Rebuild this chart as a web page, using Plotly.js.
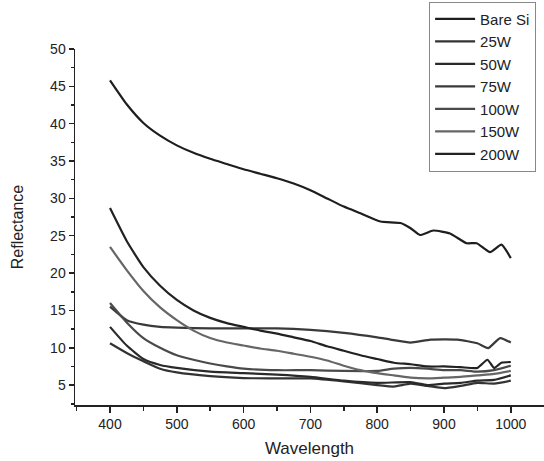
<!DOCTYPE html>
<html>
<head>
<meta charset="utf-8">
<script src="https://cdn.plot.ly/plotly-3.0.1.min.js"></script>
<style>html,body{margin:0;padding:0;background:#fff;}#chart{width:544px;height:461px;}</style>
</head>
<body>
<div id="chart"></div>
<script>
// Wavelength (nm) sample points and reflectance (%) per series
const seriesNames = ["Bare Si", "25W", "50W", "75W", "100W", "150W", "200W"];

const bareSiX = [400, 425, 450, 475, 500, 525, 550, 575, 600, 625, 650, 675, 700, 725, 750, 775, 805, 835, 850, 864, 884, 909, 934, 949, 969, 986, 1000];
const bareSiY = [45.8, 42.6, 40.1, 38.4, 37.1, 36.1, 35.3, 34.6, 33.9, 33.3, 32.7, 32.0, 31.1, 30.0, 28.9, 28.0, 26.9, 26.7, 26.0, 25.1, 25.7, 25.3, 24.0, 24.0, 22.8, 23.8, 22.0];

const w25X = [400, 425, 450, 475, 500, 550, 600, 650, 700, 750, 800, 825, 850, 875, 900, 925, 950, 975, 1000];
const w25Y = [10.6, 9.3, 8.2, 7.2, 6.7, 6.2, 5.95, 5.9, 5.9, 5.5, 5.0, 4.8, 5.2, 4.9, 4.6, 4.9, 5.3, 5.2, 5.6];

const w50X = [400, 425, 450, 475, 500, 550, 600, 650, 700, 750, 800, 850, 875, 900, 925, 950, 975, 1000];
const w50Y = [12.8, 10.3, 8.5, 7.7, 7.3, 6.8, 6.6, 6.4, 6.1, 5.6, 5.3, 5.4, 5.0, 5.2, 5.3, 5.6, 5.7, 6.3];

const w75X = [400, 425, 450, 475, 500, 550, 600, 650, 700, 750, 800, 820, 850, 880, 920, 950, 966, 984, 1000];
const w75Y = [15.5, 13.7, 13.1, 12.8, 12.7, 12.6, 12.6, 12.6, 12.4, 12.0, 11.4, 11.1, 10.7, 11.1, 11.1, 10.6, 9.95, 11.3, 10.7];

const w100X = [400, 425, 450, 475, 500, 525, 550, 575, 600, 650, 700, 750, 800, 825, 850, 875, 900, 925, 950, 975, 1000];
const w100Y = [16.0, 13.4, 11.3, 10.0, 9.0, 8.4, 7.9, 7.5, 7.2, 7.0, 7.0, 6.9, 6.9, 7.2, 7.3, 7.2, 7.0, 7.0, 6.8, 7.0, 7.6];

const w150X = [400, 425, 450, 475, 500, 525, 550, 575, 600, 625, 650, 675, 700, 725, 750, 775, 800, 825, 850, 875, 900, 925, 950, 975, 1000];
const w150Y = [23.5, 20.4, 17.6, 15.4, 13.7, 12.3, 11.3, 10.7, 10.3, 9.9, 9.6, 9.2, 8.8, 8.3, 7.6, 7.0, 6.6, 6.3, 6.0, 5.9, 6.0, 6.1, 6.3, 6.5, 6.9];

const w200X = [400, 425, 450, 475, 500, 525, 550, 575, 600, 625, 650, 675, 700, 725, 750, 775, 800, 825, 850, 875, 900, 925, 950, 965, 975, 986, 1000];
const w200Y = [28.7, 24.3, 20.8, 18.3, 16.4, 15.0, 14.0, 13.3, 12.8, 12.3, 11.9, 11.4, 10.9, 10.2, 9.6, 9.0, 8.5, 8.0, 7.8, 7.5, 7.5, 7.4, 7.3, 8.4, 7.3, 8.0, 8.1];

const xTickVals = [400, 500, 600, 700, 800, 900, 1000];
const yTickVals = [5, 10, 15, 20, 25, 30, 35, 40, 45, 50];

const xs = [bareSiX, w25X, w50X, w75X, w100X, w150X, w200X];
const ys = [bareSiY, w25Y, w50Y, w75Y, w100Y, w150Y, w200Y];
const colors = ["#1e1e1e", "#333333", "#2a2a2a", "#3a3a3a", "#4a4a4a", "#666666", "#222222"];

const traces = seriesNames.map((n, i) => ({
  type: "scatter", mode: "lines", name: n,
  x: xs[i], y: ys[i],
  line: {color: colors[i], width: 2.2, shape: "spline", smoothing: 0.5}
}));

const font = "Liberation Sans, Arial, sans-serif";
const layout = {
  width: 544, height: 461,
  margin: {l: 75, r: 0, t: 49, b: 56},
  paper_bgcolor: "#ffffff", plot_bgcolor: "#ffffff",
  font: {family: font, color: "#222", size: 14},
  showlegend: true,
  legend: {
    x: 0.755, y: 1.133, xanchor: "left", yanchor: "top",
    bordercolor: "#888", borderwidth: 1, bgcolor: "rgba(255,255,255,0)",
    font: {family: font, size: 15, color: "#222"},
    itemwidth: 40, tracegroupgap: 0
  },
  xaxis: {
    range: [347.6, 1049.7], showgrid: false, zeroline: false,
    showline: true, linecolor: "#222", linewidth: 1.5,
    ticks: "outside", ticklen: 6, tickwidth: 1.5, tickcolor: "#222",
    tickvals: xTickVals, ticktext: xTickVals.map(String),
    minor: {dtick: 50, tick0: 0, ticks: "outside", ticklen: 4, tickwidth: 1.5, tickcolor: "#222"},
    tickfont: {size: 14, color: "#222"},
    title: {text: "Wavelength", font: {size: 17, color: "#222"}, standoff: 11}
  },
  yaxis: {
    range: [2.34, 50], showgrid: false, zeroline: false,
    showline: true, linecolor: "#222", linewidth: 1.5,
    ticks: "outside", ticklen: 5, tickwidth: 1.5, tickcolor: "#222",
    tickvals: yTickVals, ticktext: yTickVals.map(String),
    minor: {dtick: 2.5, tick0: 0, ticks: "outside", ticklen: 3, tickwidth: 1.5, tickcolor: "#222"},
    tickfont: {size: 14, color: "#222"},
    title: {text: "Reflectance", font: {size: 16, color: "#222"}, standoff: 22}
  }
};

Plotly.newPlot("chart", traces, layout, {displayModeBar: false, staticPlot: true});
</script>
</body>
</html>
